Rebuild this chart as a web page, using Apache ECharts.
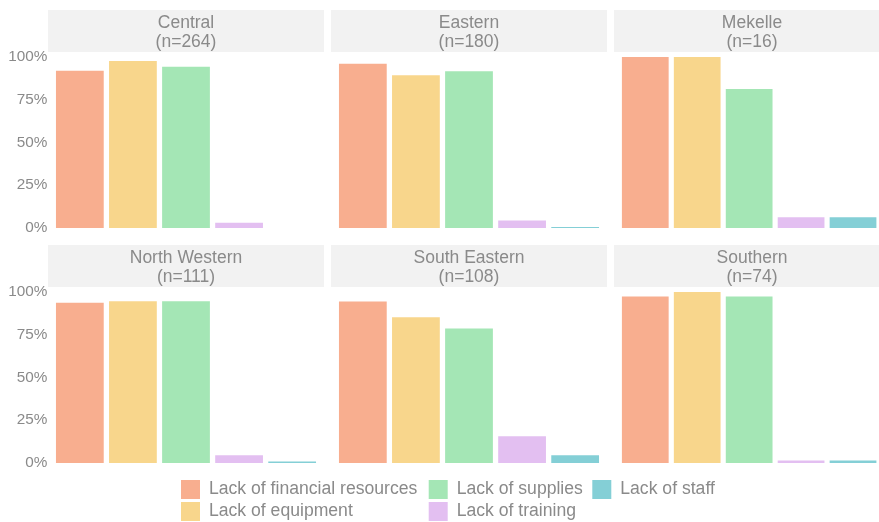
<!DOCTYPE html>
<html>
<head>
<meta charset="utf-8">
<title>Barriers by region</title>
<script src="https://cdn.jsdelivr.net/npm/echarts@6/dist/echarts.min.js"></script>
<style>
  html, body { margin: 0; padding: 0; background: #ffffff; }
  #chart { width: 879px; height: 522px; }
</style>
</head>
<body>
<div id="chart"></div>
<script>
// Regions (facets) and their sample sizes
const regions = ['Central', 'Eastern', 'Mekelle', 'North Western', 'South Eastern', 'Southern'];
const sampleSizes = [264, 180, 16, 111, 108, 74];

// Barrier categories, in bar order
const barriers = [
  'Lack of financial resources',
  'Lack of equipment',
  'Lack of supplies',
  'Lack of training',
  'Lack of staff'
];

// Share of respondents reporting each barrier (%), one array per region
const centralPct      = [92.0, 97.7, 94.3, 3.0, 0];
const easternPct      = [96.1, 89.4, 91.7, 4.4, 0.6];
const mekellePct      = [100, 100, 81.3, 6.3, 6.3];
const northWesternPct = [93.7, 94.6, 94.6, 4.5, 0.9];
const southEasternPct = [94.4, 85.2, 78.7, 15.7, 4.6];
const southernPct     = [97.3, 100, 97.3, 1.4, 1.4];

// Y axis ticks
const yTickValues = [0, 25, 50, 75, 100];
const yTickLabels = ['0%', '25%', '50%', '75%', '100%'];

const regionValues = [centralPct, easternPct, mekellePct, northWesternPct, southEasternPct, southernPct];

// Styling
const palette = ['#F8AE8F', '#F8D68C', '#A4E6B5', '#E3BFF1', '#84CFD6'];
const textGrey = '#8a8a8a';
const stripFill = '#f2f2f2';
const fontFamily = '"Liberation Sans", Arial, Helvetica, sans-serif';

// Facet layout (pixels)
const colLeft = [48, 331, 614];
const panelW = 276;
const stripTop = [10, 245];
const stripH = 42;
const plotTop = [57, 292];
const plotH = 171;
// discrete scale padding: 0.6 band on each side of 5 categories
const band = panelW / (barriers.length + 0.2);
const gridInset = band * 0.1;

const grids = [], xAxes = [], yAxes = [], series = [], graphics = [];

regions.forEach((region, p) => {
  const col = p % 3, row = Math.floor(p / 3);
  grids.push({
    left: colLeft[col] + gridInset,
    top: plotTop[row],
    width: band * barriers.length,
    height: plotH,
    containLabel: false
  });
  xAxes.push({
    type: 'category',
    gridIndex: p,
    data: barriers,
    show: false
  });
  yAxes.push({
    type: 'value',
    gridIndex: p,
    min: 0,
    max: 100,
    interval: 25,
    splitLine: { show: false },
    axisLine: { show: false },
    axisTick: { show: false },
    axisLabel: {
      show: col === 0,
      margin: 6,
      color: textGrey,
      fontSize: 15.3,
      fontFamily: fontFamily,
      padding: [2, 0, 0, 0],
      formatter: v => yTickLabels[yTickValues.indexOf(v)]
    }
  });
  barriers.forEach((b, k) => {
    series.push({
      name: b,
      type: 'bar',
      xAxisIndex: p,
      yAxisIndex: p,
      barWidth: '90%',
      barGap: '-100%',
      itemStyle: { color: palette[k] },
      emphasis: { disabled: true },
      data: barriers.map((_, i) => (i === k ? regionValues[p][k] : '-'))
    });
  });
  // facet strip
  graphics.push({
    type: 'rect',
    shape: { x: colLeft[col], y: stripTop[row], width: panelW, height: stripH },
    style: { fill: stripFill },
    silent: true
  });
  graphics.push({
    type: 'text',
    x: colLeft[col] + panelW / 2,
    y: stripTop[row] + stripH / 2 + 1.8,
    style: {
      text: region + '\n(n=' + sampleSizes[p] + ')',
      fill: textGrey,
      font: '17.5px ' + fontFamily,
      lineHeight: 19.7,
      align: 'center',
      verticalAlign: 'middle'
    },
    silent: true
  });
});

// Legend: two rows, filled column by column
const legendSpots = [
  { left: 181, top: 480 },
  { left: 181, top: 502 },
  { left: 428.7, top: 480 },
  { left: 428.7, top: 502 },
  { left: 592.3, top: 480 }
];
const legends = barriers.map((b, k) => ({
  data: [b],
  left: legendSpots[k].left,
  top: legendSpots[k].top,
  padding: 0,
  itemWidth: 19,
  itemHeight: 19,
  icon: 'rect',
  selectedMode: false,
  textStyle: {
    color: textGrey,
    fontSize: 17.6,
    fontFamily: fontFamily,
    lineHeight: 19,
    padding: [0, 0, 0, 4]
  }
}));

const chart = echarts.init(document.getElementById('chart'), null, { renderer: 'canvas' });
chart.setOption({
  animation: false,
  backgroundColor: '#ffffff',
  grid: grids,
  xAxis: xAxes,
  yAxis: yAxes,
  legend: legends,
  series: series,
  graphic: graphics
});
</script>
</body>
</html>
